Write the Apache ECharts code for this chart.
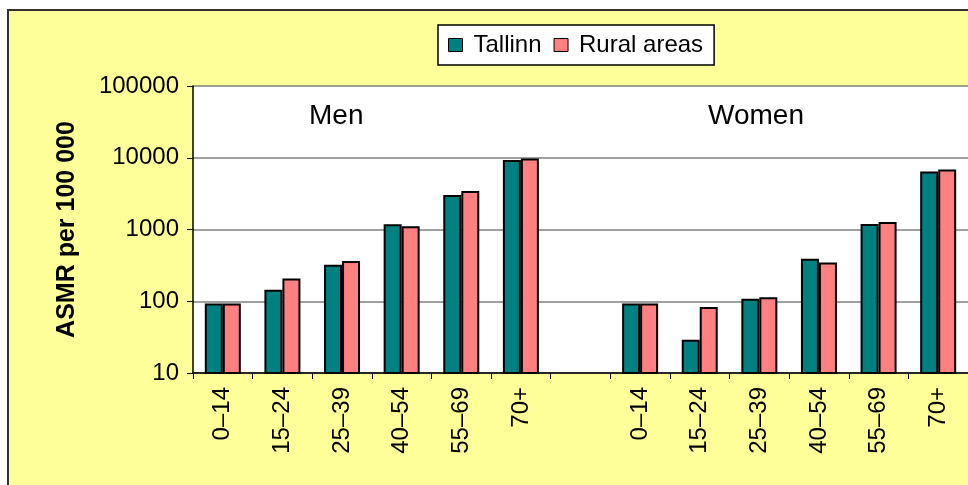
<!DOCTYPE html>
<html>
<head>
<meta charset="utf-8">
<script src="https://cdn.jsdelivr.net/npm/echarts@6/dist/echarts.min.js"></script>
<style>
  html, body { margin: 0; padding: 0; background: #fff; }
  #chart { width: 968px; height: 485px; }
</style>
</head>
<body>
<div id="chart"></div>
<script>
// age groups, men then an empty slot then women
var categories = ["0\u201314", "15\u201324", "25\u201339", "40\u201354", "55\u201369", "70+", "",
  "0\u201314", "15\u201324", "25\u201339", "40\u201354", "55\u201369", "70+"];
var tallinn = [93, 145, 323, 1185, 3035, 9290, null, 93, 29, 108, 391, 1196, 6450];
var rural = [93, 208, 363, 1112, 3443, 9780, null, 93, 83, 114, 348, 1276, 6880];
var yTicks = [10, 100, 1000, 10000, 100000];

var chart = echarts.init(document.getElementById("chart"));

var font = "Arial, 'Liberation Sans', sans-serif";

var option = {
  backgroundColor: "#fff",
  animation: false,
  textStyle: { fontFamily: font },
  graphic: [
    {
      // yellow frame behind everything
      type: "rect",
      z: -100,
      shape: { x: 8, y: 10, width: 1000, height: 520 },
      style: { fill: "#FFFF99", stroke: "#333", lineWidth: 2 }
    },
    {
      type: "text",
      left: 309,
      top: 102,
      style: { text: "Men", font: "28px " + font, fill: "#000" }
    },
    {
      type: "text",
      left: 708,
      top: 102,
      style: { text: "Women", font: "28px " + font, fill: "#000" }
    }
  ],
  legend: {
    left: 438,
    top: 25,
    padding: [8, 11, 8, 10],
    itemWidth: 14,
    itemHeight: 13,
    itemGap: 12,
    backgroundColor: "#fff",
    borderColor: "#000",
    borderWidth: 1.5,
    icon: "rect",
    itemStyle: { borderColor: "#000", borderWidth: 1 },
    textStyle: { fontSize: 24, color: "#000", fontFamily: font, padding: [0, 0, 0, 6] },
    data: ["Tallinn", "Rural areas"]
  },
  grid: {
    left: 193,
    top: 86,
    right: -5,
    bottom: 112,
    show: true,
    backgroundColor: "#fff",
    borderWidth: 0
  },
  xAxis: {
    type: "category",
    data: categories,
    axisLine: { lineStyle: { color: "#000", width: 1.5 } },
    axisTick: { show: true, length: 6, lineStyle: { color: "#000" } },
    axisLabel: {
      interval: 0,
      rotate: 90,
      margin: 14,
      fontSize: 24,
      color: "#000",
      fontFamily: font
    }
  },
  yAxis: {
    type: "log",
    logBase: 10,
    min: 10,
    max: 100000,
    name: "ASMR per 100 000",
    nameLocation: "middle",
    nameRotate: 90,
    nameGap: 113,
    nameTextStyle: { fontSize: 25, fontWeight: "bold", color: "#000", fontFamily: font },
    axisLine: { show: true, lineStyle: { color: "#000", width: 1.5 } },
    axisTick: { show: true, length: 6, lineStyle: { color: "#000" } },
    axisLabel: {
      margin: 14,
      fontSize: 24,
      color: "#000",
      fontFamily: font,
      formatter: function (v) {
        return yTicks.indexOf(Math.round(v)) >= 0 ? String(Math.round(v)) : "";
      }
    },
    splitLine: { show: true, lineStyle: { color: "#808080", width: 1.5 } }
  },
  series: [
    {
      name: "Tallinn",
      type: "bar",
      data: tallinn,
      barWidth: 18,
      barGap: "0%",
      itemStyle: { color: "#008080", borderColor: "#000", borderWidth: 2 }
    },
    {
      name: "Rural areas",
      type: "bar",
      data: rural,
      barWidth: 18,
      itemStyle: { color: "#FF8080", borderColor: "#000", borderWidth: 2 }
    }
  ]
};

chart.setOption(option);
</script>
</body>
</html>
